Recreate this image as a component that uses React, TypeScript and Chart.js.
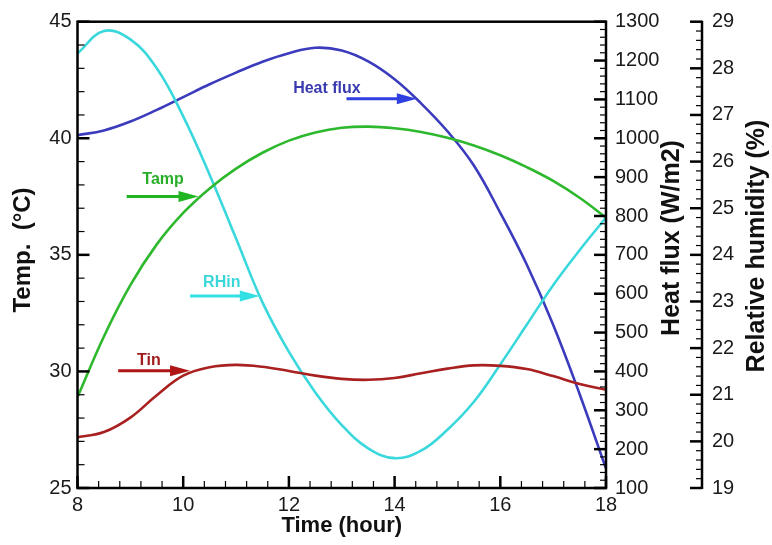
import React, { useEffect, useRef } from "react";
import { Chart, registerables } from "chart.js";

Chart.register(...registerables);

// ---- data ----
const hours = [8, 8.5, 9, 9.5, 10, 10.5, 11, 11.5, 12, 12.5, 13, 13.5, 14, 14.5, 15, 15.5, 16, 16.5, 17, 17.5, 18];
const tamp = [28.9, 31.5, 33.7, 35.45, 36.8, 37.85, 38.7, 39.38, 39.9, 40.25, 40.45, 40.5, 40.43, 40.27, 40.02, 39.69, 39.27, 38.76, 38.17, 37.45, 36.6];
const tin = [27.18, 27.4, 28.02, 28.98, 29.82, 30.18, 30.28, 30.2, 30.02, 29.82, 29.68, 29.64, 29.72, 29.92, 30.12, 30.26, 30.24, 30.1, 29.8, 29.46, 29.21];
const heatFlux = [1008, 1020, 1043, 1073, 1106, 1139, 1169, 1197, 1219, 1233, 1226, 1198, 1152, 1090, 1018, 930, 808, 675, 520, 342, 150];
const rhIn = [28.32, 28.8, 28.62, 28.0, 26.97, 25.72, 24.35, 22.98, 21.92, 21.05, 20.35, 19.85, 19.64, 19.8, 20.25, 20.85, 21.65, 22.5, 23.35, 24.1, 24.8];

const xTicks = [8, 10, 12, 14, 16, 18];
const tempTicks = [25, 30, 35, 40, 45];
const fluxTicks = [100, 200, 300, 400, 500, 600, 700, 800, 900, 1000, 1100, 1200, 1300];
const rhTicks = [19, 20, 21, 22, 23, 24, 25, 26, 27, 28, 29];

const xTitle = "Time (hour)";
const tempTitle = "Temp.  (\u00B0C)";
const fluxTitle = "Heat flux (W/m2)";
const rhTitle = "Relative humidity (%)";

// in-plot labels with arrows (data coords: hours, temperature)
const notes = [
  { text: "Heat flux", tx: 12.72, ty: 42.11, x1: 13.09, x2: 14.42, y: 41.69, text_c: "#3a3ab0", c: "#2f3fe0" },
  { text: "Tamp", tx: 9.62, ty: 38.21, x1: 8.93, x2: 10.29, y: 37.5, text_c: "#2aae2a", c: "#22b522" },
  { text: "RHin", tx: 10.73, ty: 33.8, x1: 10.13, x2: 11.45, y: 33.24, text_c: "#3ad6da", c: "#33e0e4" },
  { text: "Tin", tx: 9.35, ty: 30.45, x1: 8.77, x2: 10.13, y: 30.03, text_c: "#a01c1c", c: "#b01515" },
];

const FONT = "'Liberation Sans', Arial, sans-serif";

const pts = (vals: number[]) => hours.map((h, i) => ({ x: h, y: vals[i] }));

const axesPlugin = {
  id: "tecplotAxes",
  afterDatasetsDraw(chart: any) {
    const ctx = chart.ctx as CanvasRenderingContext2D;
    const { left, right, top, bottom } = chart.chartArea;
    const xs = chart.scales.x;
    const yT = chart.scales.y;
    const yF = chart.scales.yF;
    const yR = chart.scales.yR;
    ctx.save();

    // annotations
    for (const n of notes) {
      const tx = xs.getPixelForValue(n.tx);
      const ty = yT.getPixelForValue(n.ty);
      ctx.font = `bold 16px ${FONT}`;
      ctx.fillStyle = n.text_c;
      ctx.textAlign = "center";
      ctx.textBaseline = "middle";
      ctx.fillText(n.text, tx, ty);
      const a = xs.getPixelForValue(n.x1);
      const b = xs.getPixelForValue(n.x2);
      const y = yT.getPixelForValue(n.y);
      const head = 20;
      ctx.strokeStyle = n.c;
      ctx.fillStyle = n.c;
      ctx.lineWidth = 3;
      ctx.beginPath();
      ctx.moveTo(a, y);
      ctx.lineTo(b - head + 2, y);
      ctx.stroke();
      ctx.beginPath();
      ctx.moveTo(b - head, y - 5.5);
      ctx.lineTo(b, y);
      ctx.lineTo(b - head, y + 5.5);
      ctx.closePath();
      ctx.fill();
    }

    ctx.strokeStyle = "#000";
    ctx.fillStyle = "#1a1a1a";

    const line = (x1: number, y1: number, x2: number, y2: number, w: number) => {
      ctx.lineWidth = w;
      ctx.beginPath();
      ctx.moveTo(x1, y1);
      ctx.lineTo(x2, y2);
      ctx.stroke();
    };
    const minors = (ticks: number[], n: number) => {
      const out: number[] = [];
      for (let i = 0; i < ticks.length - 1; i++) {
        for (let k = 1; k < n; k++) out.push(ticks[i] + ((ticks[i + 1] - ticks[i]) * k) / n);
      }
      return out;
    };

    // bottom axis ticks (inside)
    for (const v of xTicks) {
      const px = xs.getPixelForValue(v);
      line(px, bottom, px, bottom - 12, 2.5);
    }
    for (const v of minors(xTicks, 5)) {
      const px = xs.getPixelForValue(v);
      line(px, bottom, px, bottom - 7, 1.2);
    }
    // left axis ticks
    for (const v of tempTicks) {
      const py = yT.getPixelForValue(v);
      line(left, py, left + 12, py, 2.5);
    }
    for (const v of minors(tempTicks, 5)) {
      const py = yT.getPixelForValue(v);
      line(left, py, left + 7, py, 1.2);
    }
    // right (heat flux) ticks inside
    for (const v of fluxTicks) {
      const py = yF.getPixelForValue(v);
      line(right, py, right - 12, py, 2.5);
    }
    for (const v of minors(fluxTicks, 5)) {
      const py = yF.getPixelForValue(v);
      line(right, py, right - 6, py, 1.2);
    }
    // frame
    ctx.lineWidth = 2.5;
    ctx.strokeRect(left, top, right - left, bottom - top);

    // RH axis (detached)
    const rx = right + 96;
    line(rx, yR.getPixelForValue(29) - 1, rx, yR.getPixelForValue(19) + 1, 2.5);
    for (const v of rhTicks) {
      const py = yR.getPixelForValue(v);
      line(rx, py, rx - 12, py, 2.5);
    }
    for (const v of minors(rhTicks, 5)) {
      const py = yR.getPixelForValue(v);
      line(rx, py, rx - 6, py, 1.2);
    }

    // tick labels
    ctx.font = `20px ${FONT}`;
    ctx.textBaseline = "middle";
    ctx.textAlign = "right";
    for (const v of tempTicks) ctx.fillText(String(v), left - 6, yT.getPixelForValue(v));
    ctx.textAlign = "left";
    for (const v of fluxTicks) ctx.fillText(String(v), right + 9, yF.getPixelForValue(v));
    for (const v of rhTicks) ctx.fillText(String(v), rx + 10, yR.getPixelForValue(v));
    ctx.textAlign = "center";
    for (const v of xTicks) ctx.fillText(String(v), xs.getPixelForValue(v), bottom + 17);

    // titles
    ctx.fillStyle = "#111";
    ctx.font = `bold 22px ${FONT}`;
    ctx.fillText(xTitle, (left + right) / 2, bottom + 38);
    const vtext = (t: string, x: number, y: number, size: number) => {
      ctx.save();
      ctx.font = `bold ${size}px ${FONT}`;
      ctx.translate(x, y);
      ctx.rotate(-Math.PI / 2);
      ctx.textAlign = "center";
      ctx.textBaseline = "middle";
      ctx.fillText(t, 0, 0);
      ctx.restore();
    };
    vtext(tempTitle, 23, 250, 24);
    vtext(fluxTitle, 672, 238, 25);
    vtext(rhTitle, 757, 246, 25);

    ctx.restore();
  },
};

export default function App() {
  const ref = useRef<HTMLCanvasElement | null>(null);
  useEffect(() => {
    if (!ref.current) return;
    const chart = new Chart(ref.current, {
      type: "line",
      data: {
        datasets: [
          { label: "Tamp", data: pts(tamp), yAxisID: "y", borderColor: "#2db82d" },
          { label: "Tin", data: pts(tin), yAxisID: "y", borderColor: "#a82020" },
          { label: "RHin", data: pts(rhIn), yAxisID: "yR", borderColor: "#3ad8dc" },
          { label: "Heat flux", data: pts(heatFlux), yAxisID: "yF", borderColor: "#3b3bbd" },
        ].map((d) => ({ ...d, borderWidth: 2.6, pointRadius: 0, tension: 0.4, fill: false })),
      },
      options: {
        responsive: false,
        maintainAspectRatio: false,
        animation: false,
        devicePixelRatio: 1,
        layout: { padding: { left: 77.5, right: 166, top: 21.7, bottom: 57 } },
        plugins: { legend: { display: false }, tooltip: { enabled: false } },
        scales: {
          x: { type: "linear", min: 8, max: 18, display: false },
          y: { type: "linear", min: 25, max: 45, display: false },
          yF: { type: "linear", min: 100, max: 1300, display: false },
          yR: { type: "linear", min: 19, max: 29, display: false },
        },
      },
      plugins: [axesPlugin],
    });
    return () => chart.destroy();
  }, []);
  return (
    <div style={{ position: "fixed", left: 0, top: 0, width: 772, height: 545, background: "#fff" }}>
      <canvas ref={ref} width={772} height={545} style={{ display: "block" }} />
    </div>
  );
}
